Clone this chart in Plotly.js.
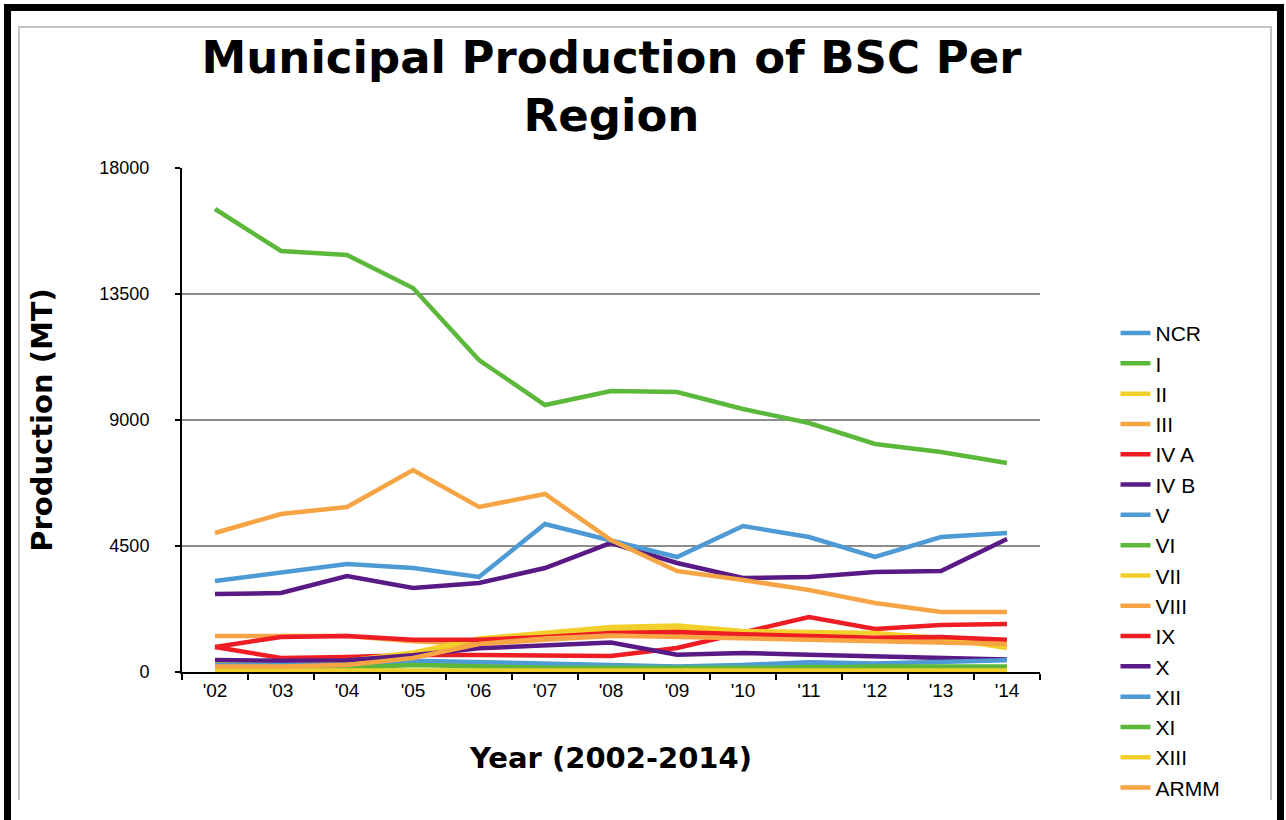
<!DOCTYPE html>
<html>
<head>
<meta charset="utf-8">
<script src="https://cdn.plot.ly/plotly-3.0.1.min.js"></script>
<style>
  html, body { margin: 0; padding: 0; background: #fff; width: 1286px; height: 820px; overflow: hidden; }
  #outer { position: absolute; left: 4px; top: 4px; width: 1266px; height: 830px; border: 7px solid #000; }
  #inner { position: absolute; left: 18px; top: 26px; width: 1250px; height: 772px; border: 2px solid #c4c4c4; border-bottom: none; }
  #chart { position: absolute; left: 0; top: 0; width: 1286px; height: 820px; }
</style>
</head>
<body>
<div id="outer"></div>
<div id="inner"></div>
<div id="chart"></div>
<script>
const years = ["'02","'03","'04","'05","'06","'07","'08","'09","'10","'11","'12","'13","'14"];

const NCR   = [50, 40, 40, 60, 50, 40, 30, 30, 40, 30, 30, 30, 30];
const R_I   = [100, 100, 100, 300, 200, 150, 100, 100, 200, 300, 200, 150, 150];
const R_II  = [250, 300, 350, 600, 1100, 1300, 1500, 1550, 1400, 1350, 1200, 1100, 1000];
const R_III = [1286, 1286, 1286, 1100, 1000, 1150, 1290, 1290, 1290, 1290, 1180, 1150, 1110];
const R_IVA = [893, 500, 536, 607, 607, 607, 571, 857, 1393, 1964, 1536, 1679, 1714];
const R_IVB = [2786, 2821, 3429, 3000, 3179, 3714, 4607, 3893, 3357, 3393, 3571, 3607, 4750];
const R_V   = [3250, 3536, 3857, 3714, 3393, 5286, 4714, 4107, 5214, 4821, 4107, 4821, 4964];
const R_VI  = [16536, 15036, 14893, 13714, 11143, 9536, 10036, 10000, 9393, 8893, 8143, 7857, 7464];
const R_VII = [350, 350, 400, 700, 1200, 1400, 1607, 1660, 1464, 1429, 1393, 1214, 857];
const R_VIII= [4964, 5643, 5893, 7214, 5893, 6357, 4714, 3607, 3286, 2929, 2464, 2143, 2143];
const R_IX  = [893, 1250, 1286, 1150, 1150, 1250, 1393, 1429, 1350, 1300, 1220, 1250, 1150];
const R_X   = [430, 400, 420, 600, 850, 950, 1050, 620, 680, 620, 560, 480, 450];
const R_XII = [250, 250, 250, 400, 350, 300, 250, 200, 250, 350, 300, 350, 420];
const R_XI  = [150, 150, 150, 250, 200, 150, 150, 150, 150, 150, 200, 200, 200];
const R_XIII= [50, 50, 50, 50, 50, 50, 50, 50, 50, 50, 50, 50, 50];
const ARMM  = [200, 200, 250, 500, 1000, 1200, 1300, 1250, 1200, 1150, 1100, 1050, 1000];

const names = ["NCR","I","II","III","IV A","IV B","V","VI","VII","VIII","IX","X","XII","XI","XIII","ARMM"];
const series = [NCR, R_I, R_II, R_III, R_IVA, R_IVB, R_V, R_VI, R_VII, R_VIII, R_IX, R_X, R_XII, R_XI, R_XIII, ARMM];

const BLUE = "#4d9ad4", GREEN = "#5cb83a", YELLOW = "#f3cf2b", ORANGE = "#f7a444", RED = "#ee1d24", PURPLE = "#5a1a86";
const colors = [BLUE, GREEN, YELLOW, ORANGE, RED, PURPLE, BLUE, GREEN, YELLOW, ORANGE, RED, PURPLE, BLUE, GREEN, YELLOW, ORANGE];

const traces = names.map((n, i) => ({
  type: "scatter",
  mode: "lines",
  name: n,
  x: years,
  y: series[i],
  line: { color: colors[i], width: 4.5 },
  hoverinfo: "none"
}));

const layout = {
  width: 1286,
  height: 820,
  paper_bgcolor: "rgba(0,0,0,0)",
  plot_bgcolor: "rgba(0,0,0,0)",
  margin: { l: 182, r: 246, t: 168, b: 148 },
  title: {
    text: "<b>Municipal Production of BSC Per<br>Region</b>",
    font: { family: "DejaVu Sans", size: 45, color: "#000" },
    x: 0.4755, xanchor: "center",
    y: 0.911, yanchor: "top"
  },
  xaxis: {
    type: "category",
    range: [-0.5, 12.5],
    showline: true, linecolor: "#000", linewidth: 2,
    ticks: "outside", tickson: "boundaries", ticklen: 6, tickwidth: 2, tickcolor: "#000",
    tickfont: { family: "Liberation Sans, Arial", size: 19, color: "#000" },
    showgrid: false, zeroline: false,
    title: { text: "<b>Year (2002-2014)</b>", font: { family: "DejaVu Sans", size: 29, color: "#000" }, standoff: 48 }
  },
  yaxis: {
    range: [0, 18000],
    tickvals: [0, 4500, 9000, 13500, 18000],
    ticktext: ["0", "4500", "9000", "13500", "18000"],
    showline: true, linecolor: "#000", linewidth: 2,
    ticks: "outside", ticklen: 5, tickwidth: 2, tickcolor: "#000",
    ticklabelstandoff: 22,
    tickfont: { family: "Liberation Sans, Arial", size: 18, color: "#000" },
    showgrid: true, gridcolor: "#8c8c8c", gridwidth: 1.5,
    zeroline: false,
    title: { text: "<b>Production (MT)</b>", font: { family: "DejaVu Sans", size: 29, color: "#000" }, standoff: 38 }
  },
  legend: {
    x: 1.088, xanchor: "left",
    y: 0.7, yanchor: "top",
    font: { family: "Liberation Sans, Arial", size: 21, color: "#000" },
    itemwidth: 30,
    tracegroupgap: 0,
    bgcolor: "rgba(0,0,0,0)"
  },
  showlegend: true
};

Plotly.newPlot("chart", traces, layout, { staticPlot: true, displayModeBar: false });
</script>
</body>
</html>
